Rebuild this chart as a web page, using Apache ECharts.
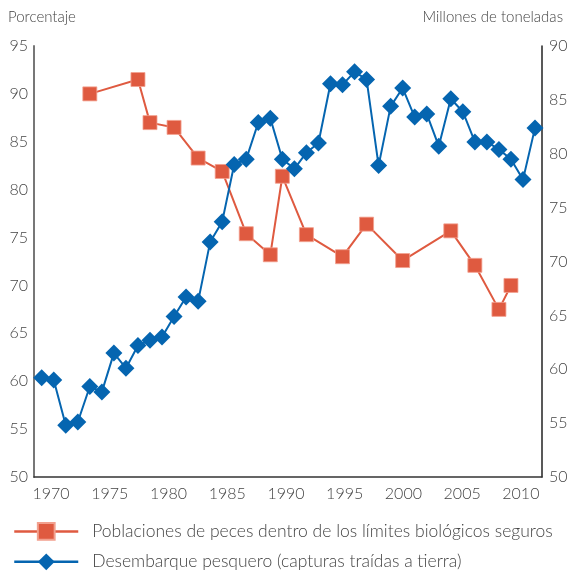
<!DOCTYPE html>
<html>
<head>
<meta charset="utf-8">
<script src="https://cdn.jsdelivr.net/npm/echarts@6/dist/echarts.min.js"></script>
<style>
  html, body { margin: 0; padding: 0; background: #fff; }
  #chart { width: 571px; height: 578px; }
</style>
</head>
<body>
<div id="chart"></div>
<script>
// Years of the landings series (one point per year)
var landingYears = [1970, 1971, 1972, 1973, 1974, 1975, 1976, 1977, 1978, 1979,
                    1980, 1981, 1982, 1983, 1984, 1985, 1986, 1987, 1988, 1989,
                    1990, 1991, 1992, 1993, 1994, 1995, 1996, 1997, 1998, 1999,
                    2000, 2001, 2002, 2003, 2004, 2005, 2006, 2007, 2008, 2009,
                    2010, 2011];
// Fish landings, million tonnes (right axis)
var landings = [59.2, 59.0, 54.8, 55.1, 58.4, 57.9, 61.5, 60.1, 62.2, 62.7,
                63.0, 64.9, 66.7, 66.3, 71.8, 73.7, 79.0, 79.5, 82.9, 83.3,
                79.5, 78.6, 80.1, 81.0, 86.5, 86.4, 87.6, 86.9, 78.9, 84.4,
                86.1, 83.4, 83.7, 80.7, 85.1, 83.9, 81.1, 81.1, 80.4, 79.5,
                77.6, 82.4];

// Assessment years of the stock series
var stockYears = [1974, 1978, 1979, 1981, 1983, 1985, 1987, 1989, 1990, 1992,
                  1995, 1997, 2000, 2004, 2006, 2008, 2009];
// Share of stocks within safe biological limits, percent (left axis)
var stockPct = [90.0, 91.5, 87.0, 86.5, 83.3, 81.9, 75.4, 73.2, 81.4, 75.3,
                73.0, 76.4, 72.6, 75.7, 72.1, 67.5, 70.0];

// Tick labels
var yearTicks = [1970, 1975, 1980, 1985, 1990, 1995, 2000, 2005, 2010];

var seriesNames = [
  'Poblaciones de peces dentro de los límites biológicos seguros',
  'Desembarque pesquero (capturas traídas a tierra)'
];

var RED = '#DF5A40';
var BLUE = '#0565B0';
var FONT = 'Lato';
var TXT = '#444';

function pairs(xs, ys) {
  var out = [];
  for (var i = 0; i < xs.length; i++) out.push([xs[i], ys[i]]);
  return out;
}

var chart = echarts.init(document.getElementById('chart'), null, { renderer: 'canvas' });

chart.setOption({
  animation: false,
  backgroundColor: '#fff',
  textStyle: { fontFamily: FONT, fontWeight: 300 },
  title: [
    { text: 'Porcentaje', left: 3, top: 5,
      textStyle: { fontFamily: FONT, fontWeight: 300, fontSize: 15, color: TXT } },
    { text: 'Millones de toneladas', right: 3, top: 5,
      textStyle: { fontFamily: FONT, fontWeight: 300, fontSize: 15, color: TXT } }
  ],
  grid: { left: 34, right: 29, top: 46, bottom: 101, containLabel: false },
  xAxis: [
    {
      // data axis
      type: 'value', min: 1969.36, max: 2011.58,
      axisLine: { show: true, lineStyle: { color: '#333', width: 1.5 } },
      axisTick: { show: false },
      axisLabel: { show: false },
      splitLine: { show: false }
    },
    {
      // year labels
      type: 'value', min: 1968.55, max: 2011.8, position: 'bottom',
      axisLine: { show: false },
      axisTick: { show: false },
      splitLine: { show: false },
      axisLabel: {
        customValues: yearTicks,
        margin: 9,
        fontFamily: FONT, fontWeight: 300, fontSize: 16, color: TXT,
        formatter: function (v) { return String(v); }
      }
    }
  ],
  yAxis: [
    {
      type: 'value', min: 50, max: 95, interval: 5, position: 'left',
      axisLine: { show: true, lineStyle: { color: '#777', width: 2 } },
      axisTick: { show: false },
      splitLine: { show: false },
      axisLabel: { margin: 6, fontFamily: FONT, fontWeight: 300, fontSize: 16, color: TXT }
    },
    {
      type: 'value', min: 50, max: 90, interval: 5, position: 'right',
      axisLine: { show: true, lineStyle: { color: '#222', width: 1.5 } },
      axisTick: { show: false },
      splitLine: { show: false },
      axisLabel: { margin: 7, fontFamily: FONT, fontWeight: 300, fontSize: 16, color: TXT }
    }
  ],
  legend: {
    orient: 'vertical', left: 13, top: 522, padding: 0,
    itemWidth: 64, itemHeight: 21, itemGap: 12,
    data: seriesNames,
    lineStyle: { width: 2.5 },
    textStyle: { fontFamily: FONT, fontWeight: 300, fontSize: 17.5, color: TXT,
                 padding: [0, 0, 0, 9] }
  },
  series: [
    {
      name: seriesNames[0], type: 'line',
      xAxisIndex: 0, yAxisIndex: 0,
      data: pairs(stockYears, stockPct),
      symbol: 'rect', symbolSize: 14,
      lineStyle: { color: RED, width: 2 },
      itemStyle: { color: RED, borderColor: '#F2A08E', borderWidth: 0.8 },
      z: 2
    },
    {
      name: seriesNames[1], type: 'line',
      xAxisIndex: 0, yAxisIndex: 1,
      data: pairs(landingYears, landings),
      symbol: 'diamond', symbolSize: 17,
      lineStyle: { color: BLUE, width: 2 },
      itemStyle: { color: BLUE },
      z: 3
    }
  ]
});
</script>
</body>
</html>
